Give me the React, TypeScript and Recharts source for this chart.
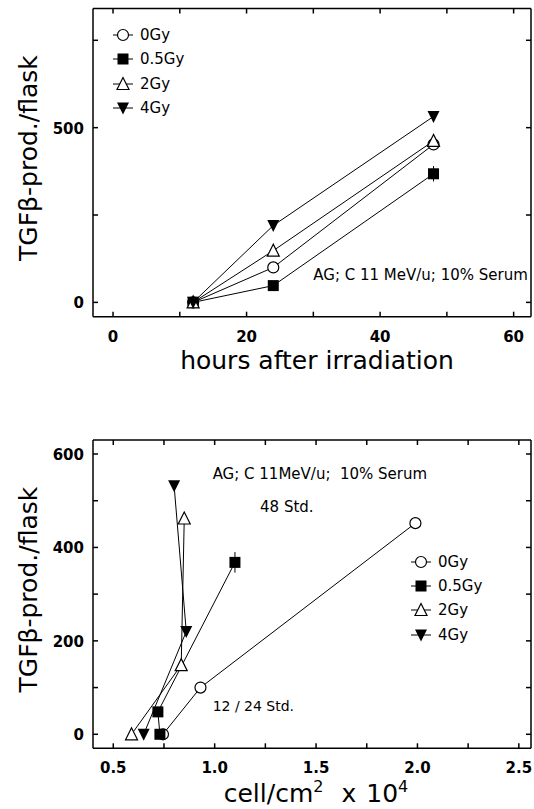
import React from 'react';
import { LineChart, Line, XAxis, YAxis, Legend, ErrorBar, ReferenceDot } from 'recharts';

// doses and marker styles
const doses = ['0Gy', '0.5Gy', '2Gy', '4Gy'];
const markers = ['circle', 'square', 'triangle', 'triangleDown'];

// TGF-beta production per flask, read at 12 / 24 / 48 h
const hours = [12, 24, 48];
const tgf0Gy = [0, 100, 452];
const tgf05Gy = [0, 48, 368];
const tgf2Gy = [0, 148, 462];
const tgf4Gy = [0, 220, 532];
const err05Gy = [0, 0, 22];

// cell density (x 10^4 / cm2) at the same time points
const cells0Gy = [0.745, 0.93, 1.99];
const cells05Gy = [0.73, 0.72, 1.1];
const cells2Gy = [0.59, 0.835, 0.85];
const cells4Gy = [0.65, 0.86, 0.8];

// ticks
const hourTicks = [0, 10, 20, 30, 40, 50, 60];
const hourLabels = [0, 20, 40, 60];
const tgfTicksTop = [0, 250, 500, 750];
const tgfLabelsTop = [0, 500];
const cellTicks = [0.5, 0.75, 1, 1.25, 1.5, 1.75, 2, 2.25, 2.5];
const cellLabels = [0.5, 1, 1.5, 2, 2.5];
const tgfTicksBottom = [0, 100, 200, 300, 400, 500, 600];
const tgfLabelsBottom = [0, 200, 400, 600];

const tgfAll = [tgf0Gy, tgf05Gy, tgf2Gy, tgf4Gy];
const cellsAll = [cells0Gy, cells05Gy, cells2Gy, cells4Gy];
const errAll = [null, err05Gy, null, null];

const FONT = 'DejaVu Sans';

const topSeries = doses.map((d, i) => ({
  name: d,
  marker: markers[i],
  hasErr: !!errAll[i],
  data: hours.map((h, j) => ({ x: h, y: tgfAll[i][j], err: errAll[i] ? errAll[i][j] : 0 })),
}));

const bottomSeries = doses.map((d, i) => ({
  name: d,
  marker: markers[i],
  hasErr: !!errAll[i],
  data: cellsAll[i].map((c, j) => ({ x: c, y: tgfAll[i][j], err: errAll[i] ? errAll[i][j] : 0 })),
}));

const Marker = ({ shape, cx, cy }: any) => {
  const h = 5.5;
  if (shape === 'circle')
    return <circle cx={cx} cy={cy} r={h} fill="#fff" stroke="#000" strokeWidth={1.2} />;
  if (shape === 'square')
    return <rect x={cx - h} y={cy - h} width={2 * h} height={2 * h} fill="#000" />;
  if (shape === 'triangle')
    return (
      <polygon
        points={`${cx},${cy - h - 1} ${cx - h - 0.5},${cy + h} ${cx + h + 0.5},${cy + h}`}
        fill="#fff"
        stroke="#000"
        strokeWidth={1.2}
      />
    );
  return <polygon points={`${cx - h - 0.5},${cy - h} ${cx + h + 0.5},${cy - h} ${cx},${cy + h + 1}`} fill="#000" />;
};

// inward ticks, labels only on the major ones
const BottomTick = ({ x, y, payload, labels, fmt }: any) => (
  <g>
    <line x1={x} y1={y} x2={x} y2={y - 5} stroke="#000" strokeWidth={1.5} />
    {labels.includes(payload.value) && (
      <text x={x} y={y + 25} textAnchor="middle" fontFamily={FONT} fontWeight="bold" fontSize={15} fill="#000">
        {fmt(payload.value)}
      </text>
    )}
  </g>
);
const TopTick = ({ x, y }: any) => <line x1={x} y1={y} x2={x} y2={y + 5} stroke="#000" strokeWidth={1.5} />;
const LeftTick = ({ x, y, payload, labels }: any) => (
  <g>
    <line x1={x} y1={y} x2={x + 5} y2={y} stroke="#000" strokeWidth={1.5} />
    {labels.includes(payload.value) && (
      <text x={x - 9} y={y + 6} textAnchor="end" fontFamily={FONT} fontWeight="bold" fontSize={15} fill="#000">
        {payload.value}
      </text>
    )}
  </g>
);
const RightTick = ({ x, y }: any) => <line x1={x} y1={y} x2={x - 5} y2={y} stroke="#000" strokeWidth={1.5} />;

const YTitle = ({ viewBox }: any) => {
  const cy = viewBox.y + viewBox.height / 2 - 4.5;
  return (
    <text
      x={37.5}
      y={cy}
      transform={`rotate(-90, 37.5, ${cy})`}
      textAnchor="middle"
      fontFamily={FONT}
      fontSize={25}
      fill="#000"
    >
      TGFβ-prod./flask
    </text>
  );
};

const HoursTitle = ({ viewBox }: any) => (
  <text x={viewBox.x + viewBox.width / 2 + 5} y={viewBox.y + 52} textAnchor="middle" fontFamily={FONT} fontSize={25} fill="#000">
    hours after irradiation
  </text>
);

const CellsTitle = ({ viewBox }: any) => (
  <text x={viewBox.x + viewBox.width / 2 + 4} y={viewBox.y + 54} textAnchor="middle" fontFamily={FONT} fontSize={25} fill="#000">
    cell/cm
    <tspan dy={-10} fontSize={16}>2</tspan>
    <tspan dy={10} dx={18}>x</tspan>
    <tspan dx={10}>10</tspan>
    <tspan dy={-10} fontSize={16}>4</tspan>
  </text>
);

const Note = ({ text, size = 15 }: any) => (props: any) => (
  <text x={props.cx} y={props.cy} fontFamily={FONT} fontSize={size} fill="#000" style={{ whiteSpace: 'pre' }}>
    {text}
  </text>
);

const renderLegend = () => (
  <div style={{ fontFamily: FONT, fontSize: 15, color: '#000' }}>
    {doses.map((d, i) => (
      <div key={d} style={{ display: 'flex', alignItems: 'center', height: 24.3 }}>
        <svg width={20} height={16}>
          <line x1={0} y1={8} x2={20} y2={8} stroke="#000" />
          <Marker shape={markers[i]} cx={10} cy={8} />
        </svg>
        <span style={{ marginLeft: 7 }}>{d}</span>
      </div>
    ))}
  </div>
);

const seriesLines = (series: any[]) =>
  series.map((s) => (
    <Line
      key={s.name}
      data={s.data}
      dataKey="y"
      name={s.name}
      stroke="#000"
      strokeWidth={1}
      isAnimationActive={false}
      dot={(p: any) => <Marker key={`${s.name}-${p.index}`} shape={s.marker} cx={p.cx} cy={p.cy} />}
      activeDot={false}
    >
      {s.hasErr && <ErrorBar dataKey="err" direction="y" width={0} stroke="#000" strokeWidth={1} />}
    </Line>
  ));

const axisLine = { stroke: '#000', strokeWidth: 1.5 };

const TopChart = () => (
  <LineChart width={534} height={400} margin={{ top: 7.5, right: 2, left: 33, bottom: 33.3 }}>
    <XAxis
      type="number"
      dataKey="x"
      domain={[-3, 62.6]}
      allowDataOverflow
      ticks={hourTicks}
      tickSize={0}
      tickMargin={0}
      height={50}
      axisLine={axisLine}
      tickLine={false}
      tick={<BottomTick labels={hourLabels} fmt={(v: number) => v} />}
      label={{ content: HoursTitle }}
    />
    <XAxis xAxisId="top" orientation="top" type="number" dataKey="x" domain={[-3, 62.6]} allowDataOverflow ticks={hourTicks}
      tickSize={0} tickMargin={0} height={1} axisLine={axisLine} tickLine={false} tick={<TopTick />} />
    <YAxis
      type="number"
      domain={[-41, 841]}
      allowDataOverflow
      ticks={tgfTicksTop}
      tickSize={0}
      tickMargin={0}
      width={60}
      axisLine={axisLine}
      tickLine={false}
      tick={<LeftTick labels={tgfLabelsTop} />}
      label={{ content: YTitle }}
    />
    <YAxis yAxisId="right" orientation="right" type="number" domain={[-41, 841]} allowDataOverflow ticks={tgfTicksTop}
      tickSize={0} tickMargin={0} width={1} axisLine={axisLine} tickLine={false} tick={<RightTick />} />
    {seriesLines(topSeries)}
    <ReferenceDot x={30} y={64} r={0} shape={Note({ text: 'AG; C 11 MeV/u; 10% Serum' })} />
    <Legend
      layout="vertical"
      align="center"
      verticalAlign="middle"
      wrapperStyle={{ left: 113, top: 23, width: 'auto' }}
      content={renderLegend}
    />
  </LineChart>
);

const BottomChart = () => (
  <LineChart width={534} height={409} margin={{ top: 39, right: 2, left: 33, bottom: 10.7 }}>
    <XAxis
      type="number"
      dataKey="x"
      domain={[0.4, 2.56]}
      allowDataOverflow
      ticks={cellTicks}
      tickSize={0}
      tickMargin={0}
      height={50}
      axisLine={axisLine}
      tickLine={false}
      tick={<BottomTick labels={cellLabels} fmt={(v: number) => v.toFixed(1)} />}
      label={{ content: CellsTitle }}
    />
    <XAxis xAxisId="top" orientation="top" type="number" dataKey="x" domain={[0.4, 2.56]} allowDataOverflow ticks={cellTicks}
      tickSize={0} tickMargin={0} height={1} axisLine={axisLine} tickLine={false} tick={<TopTick />} />
    <YAxis
      type="number"
      domain={[-30, 630]}
      allowDataOverflow
      ticks={tgfTicksBottom}
      tickSize={0}
      tickMargin={0}
      width={60}
      axisLine={axisLine}
      tickLine={false}
      tick={<LeftTick labels={tgfLabelsBottom} />}
      label={{ content: YTitle }}
    />
    <YAxis yAxisId="right" orientation="right" type="number" domain={[-30, 630]} allowDataOverflow ticks={tgfTicksBottom}
      tickSize={0} tickMargin={0} width={1} axisLine={axisLine} tickLine={false} tick={<RightTick />} />
    {seriesLines(bottomSeries)}
    <ReferenceDot x={0.99} y={547} r={0} shape={Note({ text: 'AG; C 11MeV/u;  10% Serum' })} />
    <ReferenceDot x={1.224} y={476} r={0} shape={Note({ text: '48 Std.' })} />
    <ReferenceDot x={0.99} y={49} r={0} shape={Note({ text: '12 / 24 Std.', size: 14 })} />
    <Legend
      layout="vertical"
      align="center"
      verticalAlign="middle"
      wrapperStyle={{ left: 411, top: 149.5, width: 'auto' }}
      content={renderLegend}
    />
  </LineChart>
);

export default function App() {
  return (
    <div style={{ position: 'absolute', left: 0, top: 0, width: 534, height: 809, background: '#fff' }}>
      <TopChart />
      <BottomChart />
    </div>
  );
}
